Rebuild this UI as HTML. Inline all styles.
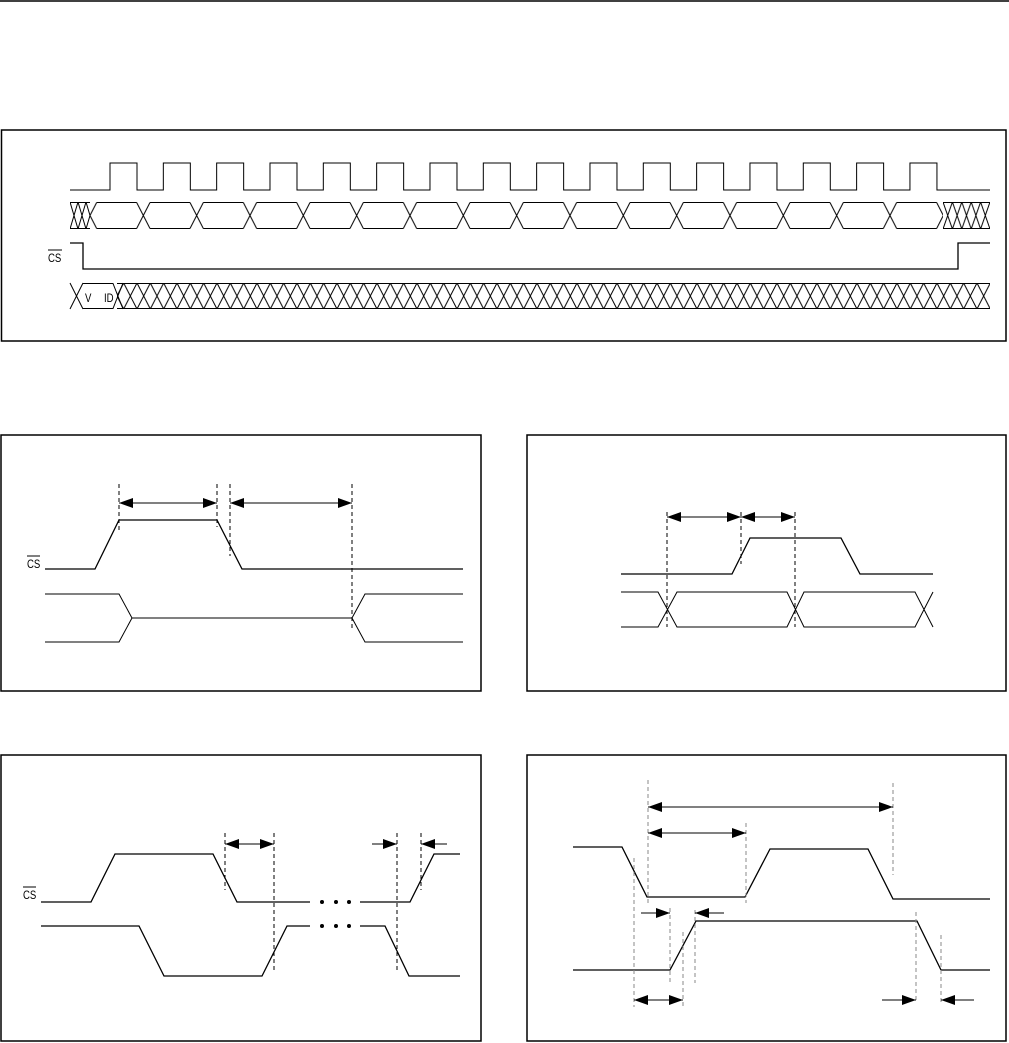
<!DOCTYPE html>
<html><head><meta charset="utf-8"><style>
html,body{margin:0;padding:0;background:#fff}
svg{display:block}
text{font-family:"Liberation Sans",sans-serif;font-size:12px;fill:#000}
</style></head><body>
<svg width="1009" height="1043" viewBox="0 0 1009 1043" xmlns="http://www.w3.org/2000/svg">
<defs>
<marker id="ah" viewBox="0 0 14 10" refX="14" refY="5" markerWidth="15" markerHeight="10" markerUnits="userSpaceOnUse" orient="auto-start-reverse"><path d="M0 0L14 5L0 10z" fill="#000"/></marker>
<pattern id="dx" x="110.33" y="283" width="13.333" height="26" patternUnits="userSpaceOnUse"><path d="M0 0L13.333 26M0 26L13.333 0M0 0.5H13.333M0 25.5H13.333" stroke="#000" stroke-width="1" fill="none"/></pattern>
<pattern id="hx" x="70" y="202" width="8" height="27" patternUnits="userSpaceOnUse"><path d="M0 0L8 27M0 27L8 0M0 0.5H8M0 26.5H8" stroke="#000" stroke-width="1" fill="none"/></pattern>
<pattern id="hx2" x="943" y="202" width="9.4" height="27" patternUnits="userSpaceOnUse"><path d="M0 0L9.4 27M0 27L9.4 0M0 0.5H9.4M0 26.5H9.4" stroke="#000" stroke-width="1" fill="none"/></pattern>
<pattern id="hexp" x="63.33" y="202" width="53.333" height="27" patternUnits="userSpaceOnUse"><path d="M0 0.5H20M33.33 0.5H53.333M0 26.5H20M33.33 26.5H53.333M20 0.5L33.33 26.5M20 26.5L33.33 0.5" stroke="#000" stroke-width="1" fill="none"/></pattern>
</defs>
<g fill="none" stroke="#000" stroke-width="1.3">
<line x1="0" y1="1" x2="1009" y2="1" stroke-width="1.5"/>
<path d="M1.5 130H1006V341H1.5Z" stroke-width="1.5"/>
<path d="M70 190H110 v-27h27v27h26.33 v-27h27v27h26.33 v-27h27v27h26.33 v-27h27v27h26.33 v-27h27v27h26.33 v-27h27v27h26.33 v-27h27v27h26.33 v-27h27v27h26.33 v-27h27v27h26.33 v-27h27v27h26.33 v-27h27v27h26.33 v-27h27v27h26.33 v-27h27v27h26.33 v-27h27v27h26.33 v-27h27v27h26.33 v-27h27v27H990" stroke-width="1"/>
<path d="M70 243H83V269H958V243H990"/>
<path d="M70 283L83 309M70 309L83 283M83 283.5H113L123 309M83 308.5H113L123 283" stroke-width="1"/>
</g>
<rect x="70" y="202" width="20" height="27" fill="url(#hx)"/>
<rect x="90" y="202" width="853" height="27" fill="url(#hexp)"/>
<rect x="943" y="202" width="47" height="27" fill="url(#hx2)"/>
<rect x="117" y="283" width="873" height="26" fill="url(#dx)"/>
<text transform="translate(48 262) scale(0.8 1)" font-size="13">CS</text><line x1="48" y1="250" x2="62" y2="250" stroke="#000" stroke-width="1"/>
<text transform="translate(85 302) scale(0.8 1)" font-size="13">V</text><text transform="translate(104 302) scale(0.8 1)" font-size="13">ID</text>

<g fill="none" stroke="#000" stroke-width="1.3">
<path d="M1 435H481V691H1Z" stroke-width="1.5"/>
<path d="M45 569H95L119 520H217L242 569H463"/>
<path d="M45 594H119L132 618L119 642H45M132 618H352L365 594H463M352 618L365 642H463" stroke-width="1"/>
<g stroke-dasharray="4 3" stroke-width="1"><path d="M119 484V531M217 484V527M230 484V556M352 484V630"/></g>
<line x1="119" y1="503" x2="217" y2="503" stroke-width="1" marker-start="url(#ah)" marker-end="url(#ah)"/>
<line x1="230" y1="503" x2="352" y2="503" stroke-width="1" marker-start="url(#ah)" marker-end="url(#ah)"/>

<path d="M527 435H1006V691H527Z" stroke-width="1.5"/>
<path d="M621 574H732L750 538H841L860 574H933"/>
<path d="M621 592H658L677 627H787L804 592H915L933 627M621 627H658L677 592H787L804 627H915L933 592" stroke-width="1"/>
<g stroke-dasharray="4 3" stroke-width="1"><path d="M667 512V627M741 512V564M795 512V627"/></g>
<line x1="667" y1="517" x2="741" y2="517" stroke-width="1" marker-start="url(#ah)" marker-end="url(#ah)"/>
<line x1="741" y1="517" x2="795" y2="517" stroke-width="1" marker-start="url(#ah)" marker-end="url(#ah)"/>

<path d="M1 755H481V1041H1Z" stroke-width="1.5"/>
<path d="M41 902H91L115 854H213L237 902H310M360 902H410L434 854H460"/>
<path d="M41 926H139L164 976H262L287 926H310M360 926H385L409 976H460"/>
<g stroke-dasharray="4 3" stroke-width="1"><path d="M225 833V890M274 833V970M397 833V970M421 833V890"/></g>
<line x1="225" y1="844" x2="274" y2="844" stroke-width="1" marker-start="url(#ah)" marker-end="url(#ah)"/>
<line x1="372" y1="844" x2="397" y2="844" stroke-width="1" marker-end="url(#ah)"/>
<line x1="447" y1="844" x2="421" y2="844" stroke-width="1" marker-end="url(#ah)"/>

<path d="M527 755H1006V1041H527Z" stroke-width="1.5"/>
<path d="M573 847H622L647 897H745L770 849H868L893 899H990"/>
<path d="M573 970H670L696 921H917L941 970H990"/>
<g stroke-dasharray="4 3" stroke-width="1" stroke="#888"><path d="M648 780V903M746 823V903M893 783V875M634 858V1007M670 908V983M683 932V1007M695 910V983M916 912V1002M941 935V1002"/></g>
<line x1="648" y1="807" x2="893" y2="807" stroke-width="1" marker-start="url(#ah)" marker-end="url(#ah)"/>
<line x1="648" y1="833" x2="746" y2="833" stroke-width="1" marker-start="url(#ah)" marker-end="url(#ah)"/>
<line x1="641" y1="913" x2="670" y2="913" stroke-width="1" marker-end="url(#ah)"/>
<line x1="724" y1="913" x2="695" y2="913" stroke-width="1" marker-end="url(#ah)"/>
<line x1="634" y1="1000" x2="683" y2="1000" stroke-width="1" marker-start="url(#ah)" marker-end="url(#ah)"/>
<line x1="882" y1="1000" x2="916" y2="1000" stroke-width="1" marker-end="url(#ah)"/>
<line x1="974" y1="1000" x2="941" y2="1000" stroke-width="1" marker-end="url(#ah)"/>
</g>
<g fill="#000"><circle cx="322" cy="902" r="2"/><circle cx="336" cy="902" r="2"/><circle cx="349" cy="902" r="2"/><circle cx="322" cy="926" r="2"/><circle cx="336" cy="926" r="2"/><circle cx="349" cy="926" r="2"/></g>
<text transform="translate(27 568) scale(0.8 1)" font-size="13">CS</text><line x1="27" y1="556" x2="40" y2="556" stroke="#000" stroke-width="1"/>
<text transform="translate(23 899) scale(0.8 1)" font-size="13">CS</text><line x1="23" y1="887" x2="36" y2="887" stroke="#000" stroke-width="1"/>
</svg>
</body></html>
